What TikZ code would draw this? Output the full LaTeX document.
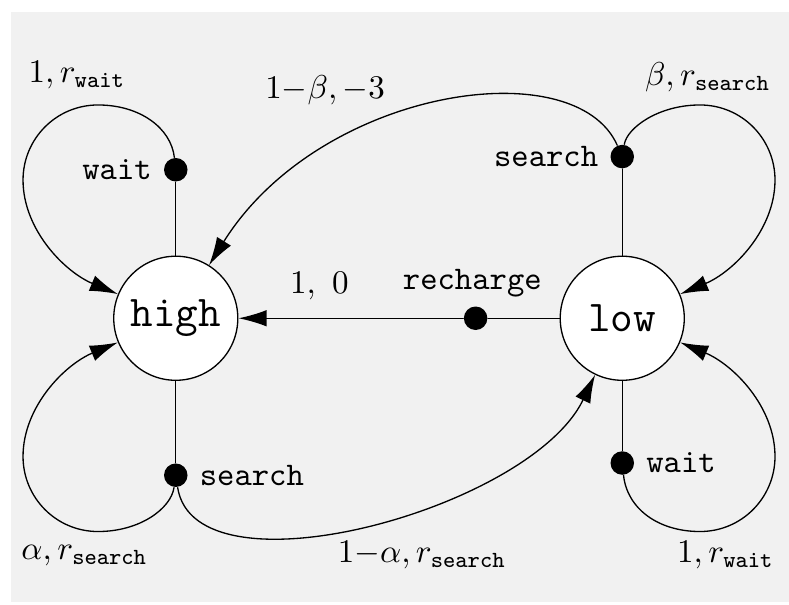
\documentclass[tikz,border=0pt]{standalone}
\usetikzlibrary{arrows.meta}
\definecolor{panel}{HTML}{F1F1F1}
\tikzset{
  state/.style={circle, draw, fill=white, minimum size=1.32cm, inner sep=0pt, font=\fontsize{13.3}{16}\selectfont\ttfamily},
  act/.style={circle, fill=black, minimum size=0.25cm, inner sep=0pt},
}
\begin{document}
\begin{tikzpicture}[line width=0.4pt, line join=round, line cap=round, >={Latex[length=8.5pt,width=5pt]}]
	\fill[white] (0,0) rectangle (8.394,6.426);
	\fill[panel] (0.117,0.021) rectangle (8.394,6.298);
	\useasboundingbox (0,0) rectangle (8.394,6.426);
	% states
	\node[state] (high) at (1.87,3.04) {high};
	\node[state] (low) at (6.62,3.04) {low};
	% action dots
	\node[act, label=left:\texttt{wait}] (hw) at (1.87,4.62) {};
	\node[act, label=right:\texttt{search}] (hs) at (1.87,1.37) {};
	\node[act, label=left:\texttt{search}] (ls) at (6.62,4.76) {};
	\node[act, label=right:\texttt{wait}] (lw) at (6.62,1.50) {};
	\node[act, label={[xshift=-1pt, yshift=-1pt]above:\texttt{recharge}}] (rc) at (5.06,3.04) {};
	\draw (hw) -- (high) (high) -- (hs) (ls) -- (low) (low) -- (lw) (low) -- (rc);
	\draw[->] (rc) -- node[pos=0.64, above, yshift=2pt]{$1,\ 0$} (high);
	% self loops
	\draw[->] (hw) .. controls (1.819,5.064) and (1.489,5.309) .. (1.043,5.309)
		.. controls (0.596,5.309) and (0.245,4.947) .. (0.245,4.511)
		.. controls (0.245,3.979) and (0.691,3.532) .. (high);
	\draw[->] (hs) .. controls (1.819,1.016) and (1.489,0.771) .. (1.043,0.771)
		.. controls (0.596,0.771) and (0.245,1.133) .. (0.245,1.569)
		.. controls (0.245,2.101) and (0.691,2.548) .. (high);
	\draw[->] (ls) .. controls (6.671,5.064) and (7.001,5.309) .. (7.447,5.309)
		.. controls (7.894,5.309) and (8.245,4.947) .. (8.245,4.511)
		.. controls (8.245,3.979) and (7.799,3.532) .. (low);
	\draw[->] (lw) .. controls (6.671,1.016) and (7.001,0.771) .. (7.447,0.771)
		.. controls (7.894,0.771) and (8.245,1.133) .. (8.245,1.569)
		.. controls (8.245,2.101) and (7.799,2.548) .. (low);
	% crossing transitions
	\draw[->] (ls) .. controls (6.117,5.894) and (3.404,5.489) .. (high);
	\draw[->] (hs) .. controls (2.074,0.043) and (5.64,1.00) .. (low);
	% probabilities and rewards
	\node (phw) at (0.82,5.63) {$1, r_{\mathtt{wait}}$};
	\node (pls) at (3.46,5.47) {$1{-}\beta, -3$};
	\node (plsl) at (7.53,5.60) {$\beta, r_{\mathtt{search}}$};
	\node (phs) at (0.90,0.51) {$\alpha, r_{\mathtt{search}}$};
	\node (phsl) at (4.49,0.52) {$1{-}\alpha, r_{\mathtt{search}}$};
	\node (plw) at (7.72,0.52) {$1, r_{\mathtt{wait}}$};
\end{tikzpicture}
\end{document}
